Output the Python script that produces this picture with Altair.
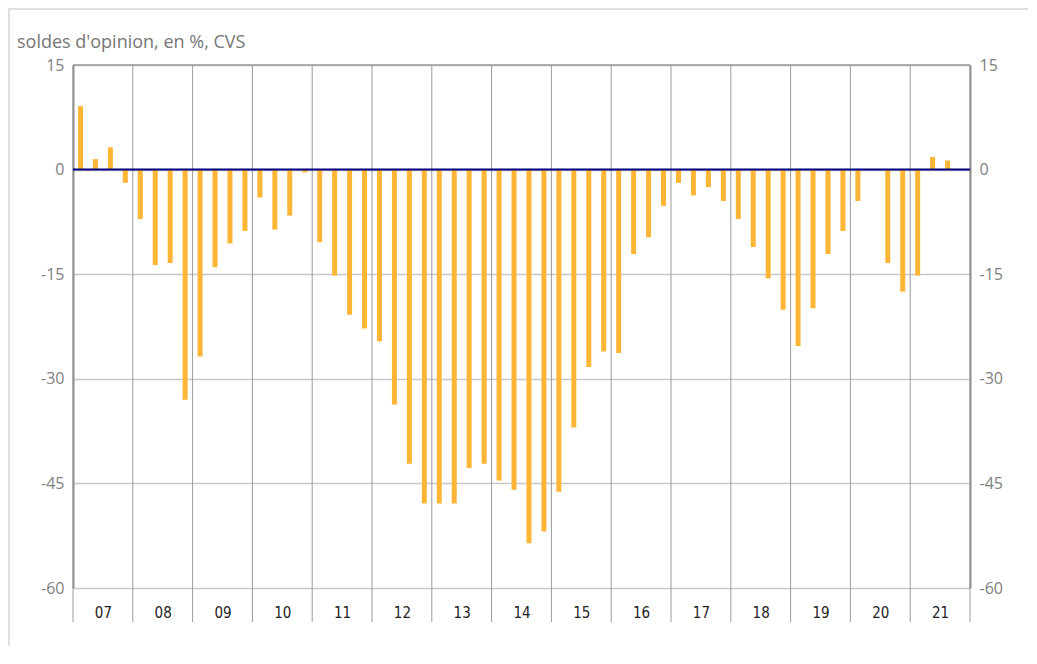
import altair as alt
import pandas as pd

years = list(range(2007, 2022))
quarters = [1, 2, 3, 4]
values = [
    9.1, 1.5, 3.2, -1.9,        # 07
    -7.1, -13.7, -13.4, -33.0,  # 08
    -26.8, -14.0, -10.6, -8.8,  # 09
    -4.0, -8.6, -6.6, -0.4,     # 10
    -10.4, -15.2, -20.8, -22.8, # 11
    -24.6, -33.7, -42.2, -47.9, # 12
    -47.9, -47.9, -42.8, -42.2, # 13
    -44.6, -45.9, -53.6, -51.9, # 14
    -46.2, -37.0, -28.3, -26.1, # 15
    -26.3, -12.1, -9.7, -5.2,   # 16
    -1.9, -3.7, -2.5, -4.5,     # 17
    -7.1, -11.1, -15.6, -20.1,  # 18
    -25.3, -19.9, -12.1, -8.8,  # 19
    -4.5, None, -13.4, -17.5,   # 20
    -15.2, 1.8, 1.3, None,      # 21
]
y_ticks = [-60, -45, -30, -15, 0, 15]
axis_title = "soldes d'opinion, en %, CVS"

rows = []
i = 0
for yr in years:
    for q in quarters:
        v = values[i]
        i += 1
        if v is not None:
            rows.append({"t": yr + (q - 0.5) / 4, "value": v})
bars_df = pd.DataFrame(rows)
sep_df = pd.DataFrame({"t": years + [years[-1] + 1]})
mid_years = [y + 0.5 for y in years]

W, H = 897, 523
xscale = alt.Scale(domain=[2007, 2022], nice=False, zero=False, padding=0)
yscale = alt.Scale(domain=[-60, 15], nice=False, padding=0)

FONT = "Open Sans"

x_axis = alt.Axis(values=mid_years, labelExpr="format(floor(datum.value) % 100, '02d')",
                  ticks=False, domain=False, grid=False, title=None,
                  labelFont="Liberation Sans Narrow, DejaVu Sans Condensed, sans-serif",
                  labelFontSize=15, labelColor="#222222", labelPadding=17)

seps = alt.Chart(sep_df).mark_rule(color="#9a9a9a", strokeWidth=1, clip=False).encode(
    x=alt.X("t:Q", scale=xscale, axis=x_axis),
    y=alt.value(0),
    y2=alt.value(H + 34),
)

bars = alt.Chart(bars_df).mark_bar(color="#FDB536", size=5).encode(
    x=alt.X("t:Q", scale=xscale, axis=x_axis),
    y=alt.Y("value:Q", scale=yscale,
            axis=alt.Axis(values=y_ticks, orient="left", grid=True, gridColor="#c8c8c8",
                          gridWidth=1.5, domain=True, domainColor="#8a8a8a", domainWidth=2,
                          ticks=False, labelPadding=9, labelFont=FONT, labelFontSize=16,
                          labelColor="#808080", title=None, labelExpr="'' + datum.value")),
)

top_df = pd.DataFrame({"v": [15]})
top_rule = alt.Chart(top_df).mark_rule(color="#9a9a9a", strokeWidth=1.5).encode(
    y=alt.Y("v:Q", scale=yscale, axis=None),
    x=alt.value(0), x2=alt.value(W),
)

zero_df = pd.DataFrame({"v": [0]})
zero_rule = alt.Chart(zero_df).mark_rule(color="#000080", strokeWidth=2).encode(
    y=alt.Y("v:Q", scale=yscale,
            axis=alt.Axis(values=y_ticks, orient="right", grid=False, domain=True,
                          domainColor="#8a8a8a", domainWidth=2, ticks=False, labelPadding=9,
                          labelFont=FONT, labelFontSize=16, labelColor="#808080", title=None,
                          labelExpr="'' + datum.value")),
    x=alt.value(0), x2=alt.value(W),
)

title_df = pd.DataFrame({"txt": [axis_title]})
title_txt = alt.Chart(title_df).mark_text(align="left", baseline="alphabetic", font=FONT,
                                          fontSize=18, color="#777777").encode(
    text="txt:N", x=alt.value(-56), y=alt.value(-17))

frame_top = alt.Chart(title_df).mark_rule(color="#e0e0e0", strokeWidth=2, clip=False).encode(
    x=alt.value(-65), x2=alt.value(W + 70), y=alt.value(-56))
frame_left = alt.Chart(title_df).mark_rule(color="#e0e0e0", strokeWidth=2, clip=False).encode(
    x=alt.value(-64), y=alt.value(-57), y2=alt.value(H + 70))

chart = alt.layer(frame_top, frame_left, seps, bars, top_rule, zero_rule, title_txt).resolve_scale(
    y="independent"
).properties(
    width=W, height=H,
    autosize=alt.AutoSizeParams(type="none"),
    padding={"left": 65, "top": 57, "right": 58, "bottom": 58},
).configure_view(stroke=None)

chart.save("out.html", embed_options={"renderer": "svg", "actions": False})
